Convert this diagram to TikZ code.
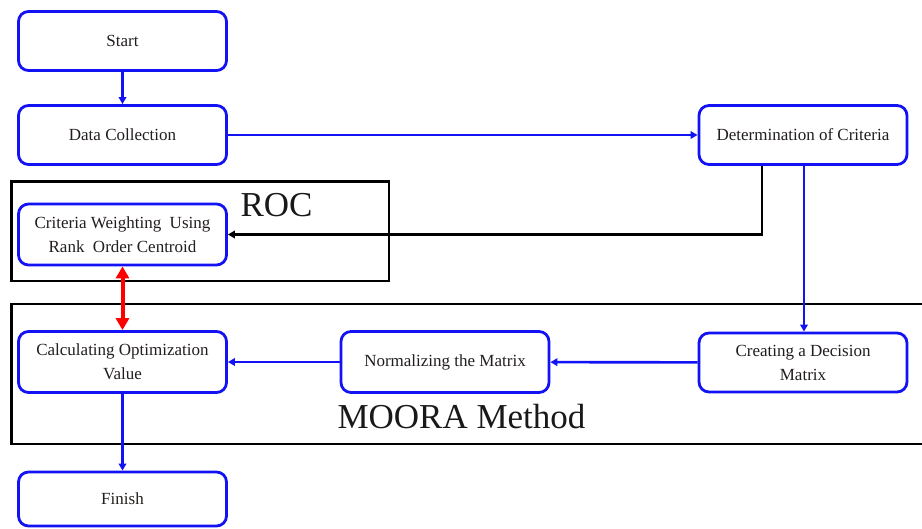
\documentclass[tikz,border=0pt]{standalone}
\usepackage{fontspec}
\setmainfont{Liberation Serif}
\usetikzlibrary{arrows.meta}
\definecolor{flowblue}{RGB}{18,18,245}
\definecolor{inktext}{RGB}{35,30,30}
\begin{document}
\begin{tikzpicture}[x=1pt,y=-1pt,
  stepbox/.style={draw=flowblue, line width=2.8pt, rounded corners=10pt, fill=white,
    minimum width=208pt, minimum height=59pt, inner sep=2pt, align=center,
    font=\fontsize{17}{24}\selectfont, text=inktext},
  groupbox/.style={draw=black, line width=2.6pt},
  grouplabel/.style={font=\fontsize{35}{40}\selectfont, text=black!90, anchor=base, inner sep=0pt},
  flow/.style={draw=flowblue, line width=2.6pt, -{Triangle[length=7pt,width=7.5pt]}},
  blackflow/.style={draw=black, line width=2.6pt, -{Triangle[length=7pt,width=7.5pt]}},
  redflow/.style={draw=red, line width=4pt,
    {Triangle[length=12pt,width=13pt]}-{Triangle[length=12pt,width=13pt]}}
]
\useasboundingbox (0,0) rectangle (922,529);

% grouping frames
\draw[groupbox] (11.5,181.5) rectangle (389,281);
\draw[groupbox] (11.5,304) rectangle (935,444);
\node[grouplabel] (roclabel) at (276.5,217) {ROC};
\node[grouplabel] (mooralabel) at (461.5,429) {MOORA Method};

% process steps
\node[stepbox] (start)  at (122.5,41)  {Start};
\node[stepbox] (data)   at (122.5,135) {Data Collection};
\node[stepbox] (crit)   at (803,135)   {Determination of Criteria};
\node[stepbox, minimum height=61pt] (roc) at (122.5,234.5) {Criteria Weighting\ \ Using\\Rank\ \ Order Centroid};
\node[stepbox, minimum height=61pt] (calc) at (122.5,362) {Calculating Optimization\\Value};
\node[stepbox, minimum height=61pt] (norm) at (445,362) {Normalizing the Matrix};
\node[stepbox, minimum height=59pt] (dec) at (803,362.5) {Creating a Decision\\Matrix};
\node[stepbox, minimum height=54pt] (finish) at (122.5,499) {Finish};

% connectors
\draw[flow] (start) -- (data);
\draw[flow] (data) -- (crit);
\draw[blackflow] ([xshift=-41pt]crit.south) |- (roc.east);
\draw[flow] ([xshift=1pt]crit.south) -- ([xshift=1pt]dec.north);
\draw[flow] (dec) -- (norm);
\draw[flow] (norm) -- (calc);
\draw[redflow] (roc) -- (calc);
\draw[flow] (calc) -- (finish);
\end{tikzpicture}
\end{document}
